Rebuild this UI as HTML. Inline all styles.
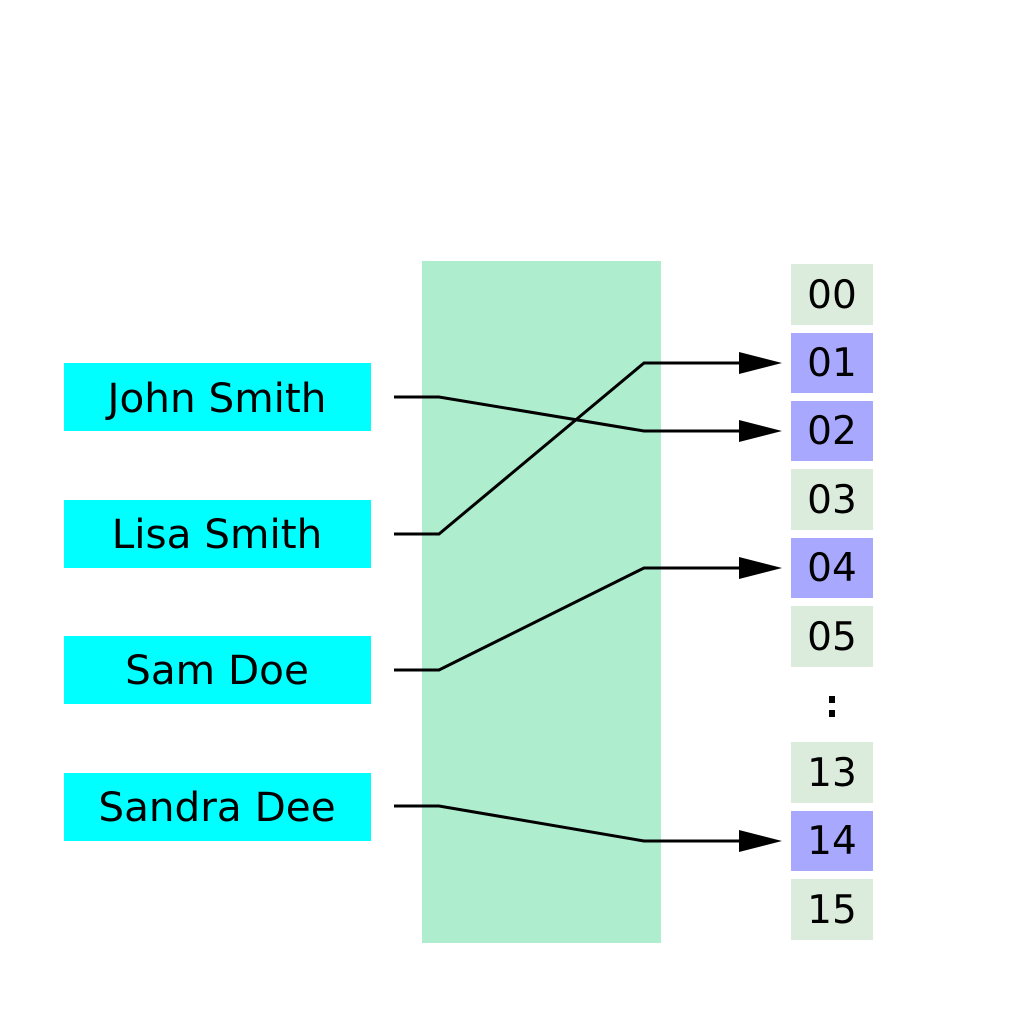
<!DOCTYPE html>
<html><head><style>html,body{margin:0;padding:0;background:#fff}</style></head>
<body>
<svg width="1024" height="1024" xmlns="http://www.w3.org/2000/svg" font-family="DejaVu Sans, sans-serif">
<rect x="422" y="261" width="239" height="682" fill="#aeeecf"/>
<g fill="#00ffff">
<rect x="64" y="363" width="307" height="68"/>
<rect x="64" y="500" width="307" height="68"/>
<rect x="64" y="636" width="307" height="68"/>
<rect x="64" y="773" width="307" height="68"/>
</g>
<g text-anchor="middle" fill="#000" font-size="40.5">
<text x="217" y="412">John Smith</text>
<text x="217" y="548">Lisa Smith</text>
<text x="217" y="684">Sam Doe</text>
<text x="217" y="821">Sandra Dee</text>
</g>
<g>
<rect x="791" y="264" width="82" height="61" fill="#dcecdc"/>
<rect x="791" y="333" width="82" height="60" fill="#a8a8ff"/>
<rect x="791" y="401" width="82" height="60" fill="#a8a8ff"/>
<rect x="791" y="469" width="82" height="61" fill="#dcecdc"/>
<rect x="791" y="538" width="82" height="60" fill="#a8a8ff"/>
<rect x="791" y="606" width="82" height="61" fill="#dcecdc"/>
<rect x="791" y="742" width="82" height="61" fill="#dcecdc"/>
<rect x="791" y="811" width="82" height="60" fill="#a8a8ff"/>
<rect x="791" y="879" width="82" height="61" fill="#dcecdc"/>
</g>
<g text-anchor="middle" fill="#000" font-size="39">
<text x="832" y="308">00</text>
<text x="832" y="376">01</text>
<text x="832" y="444">02</text>
<text x="832" y="513">03</text>
<text x="832" y="581">04</text>
<text x="832" y="650">05</text>
<text x="832" y="786">13</text>
<text x="832" y="854">14</text>
<text x="832" y="923">15</text>
</g>
<rect x="829" y="696" width="6" height="7" fill="#000"/>
<rect x="829" y="710" width="6" height="7" fill="#000"/>
<g fill="none" stroke="#000" stroke-width="3">
<polyline points="394,397 439,397 644,431 745,431"/>
<polyline points="394,534 439,534 644,363 745,363"/>
<polyline points="394,670 439,670 644,568 745,568"/>
<polyline points="394,806 439,806 644,841 745,841"/>
</g>
<g fill="#000">
<polygon points="739,352 782,363 739,374"/>
<polygon points="739,420 782,431 739,442"/>
<polygon points="739,557 782,568 739,579"/>
<polygon points="739,830 782,841 739,852"/>
</g>
</svg>
</body></html>
